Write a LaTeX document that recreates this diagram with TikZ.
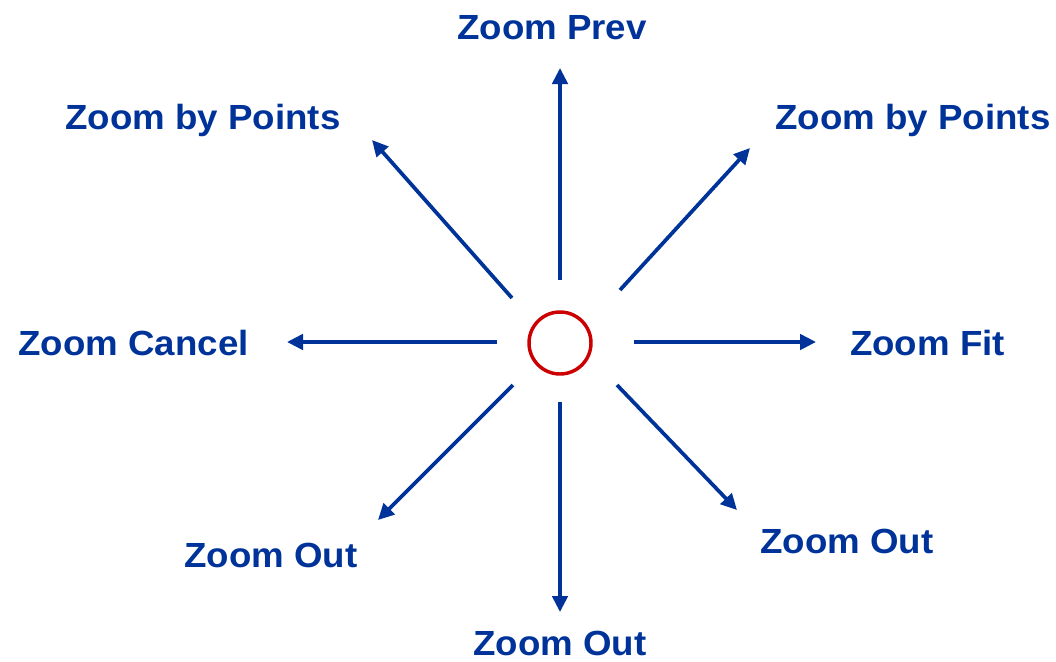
\documentclass[tikz,border=0pt]{standalone}
\usepackage{fontspec}
\setmainfont[FakeStretch=1.05]{Liberation Sans}
\usetikzlibrary{arrows.meta}
\definecolor{zblue}{RGB}{0,51,153}
\definecolor{zred}{RGB}{204,0,0}
\tikzset{
  zlab/.style={anchor=base, inner sep=0pt, text=zblue, font=\fontsize{26.2}{31}\selectfont\bfseries},
  zarr/.style={-{Triangle[length=12pt, width=11.5pt]}, zblue, line width=2.8pt},
  hub/.style={circle, draw=zred, line width=2.6pt, minimum size=46.5pt, inner sep=0pt},
}
\begin{document}
\begin{tikzpicture}[x=0.75pt, y=-0.75pt]
  \useasboundingbox (0,0) rectangle (1056,661);
  \node[hub] (ctr) at (560,343) {};
  % labels
  \node[zlab] (prev) at (552,39) {Zoom Prev};
  \node[zlab] (ptsl) at (203,129) {Zoom by Points};
  \node[zlab] (ptsr) at (913,129) {Zoom by Points};
  \node[zlab] (cncl) at (133.5,355) {Zoom Cancel};
  \node[zlab] (fit) at (927.5,355) {Zoom Fit};
  \node[zlab] (outl) at (271,567) {Zoom Out};
  \node[zlab] (outb) at (560,655) {Zoom Out};
  \node[zlab] (outr) at (847,553) {Zoom Out};
  % arrow ends
  \coordinate (n0) at (560,280);  \coordinate (n1) at (560,68);
  \coordinate (nw0) at (512,298); \coordinate (nw1) at (372,140);
  \coordinate (ne0) at (620,290); \coordinate (ne1) at (750,148);
  \coordinate (w0) at (497,342);  \coordinate (w1) at (287,342);
  \coordinate (e0) at (634,342);  \coordinate (e1) at (816,342);
  \coordinate (sw0) at (513,385); \coordinate (sw1) at (378,520);
  \coordinate (s0) at (560,402);  \coordinate (s1) at (560,612);
  \coordinate (se0) at (617,385); \coordinate (se1) at (737,510);
  \draw[zarr] (n0) -- (n1);
  \draw[zarr] (nw0) -- (nw1);
  \draw[zarr] (ne0) -- (ne1);
  \draw[zarr] (w0) -- (w1);
  \draw[zarr] (e0) -- (e1);
  \draw[zarr] (sw0) -- (sw1);
  \draw[zarr] (s0) -- (s1);
  \draw[zarr] (se0) -- (se1);
\end{tikzpicture}
\end{document}
